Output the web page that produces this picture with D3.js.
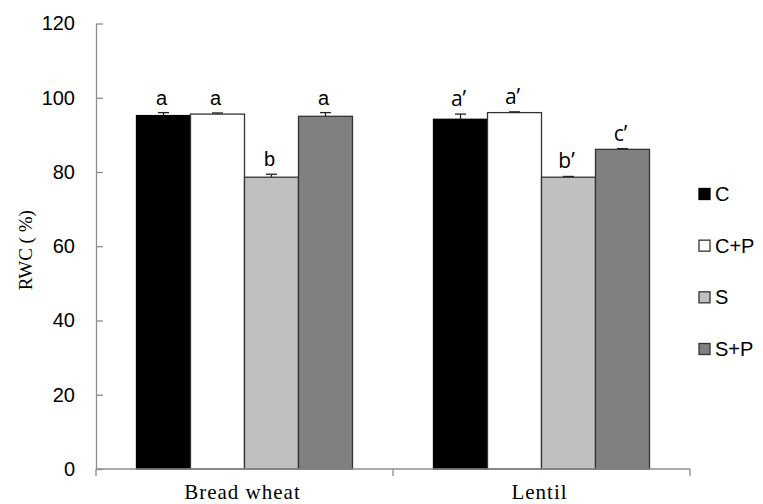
<!DOCTYPE html>
<html>
<head>
<meta charset="utf-8">
<script src="https://cdn.jsdelivr.net/npm/d3@7"></script>
<style>
  html, body { margin: 0; padding: 0; background: #fff; }
  svg { display: block; }
</style>
</head>
<body>
<svg id="chart" width="763" height="504"></svg>
<script>
// Relative water content (%) per crop and treatment
const crops = ["Bread wheat", "Lentil"];
const treatments = ["C", "C+P", "S", "S+P"];

const rwcC  = [95.2, 94.2];
const rwcCP = [95.6, 96.0];
const rwcS  = [78.6, 78.6];
const rwcSP = [95.0, 86.1];

const errC  = [0.8, 1.4];
const errCP = [0.3, 0.2];
const errS  = [0.8, 0.2];
const errSP = [1.0, 0.2];

// Significance letters (bread wheat, lentil)
const lettersWheat  = ["a", "a", "b", "a"];
const lettersLentil = ["a\u2019", "a\u2019", "b\u2019", "c\u2019"];

const yTicks = [0, 20, 40, 60, 80, 100, 120];

const fills   = ["#000000", "#ffffff", "#c0c0c0", "#808080"];
const strokes = ["#000000", "#333333", "#333333", "#333333"];

const seriesVals = [rwcC, rwcCP, rwcS, rwcSP];
const seriesErr  = [errC, errCP, errS, errSP];
const letterSets = [lettersWheat, lettersLentil];

const rows = [];
crops.forEach((crop, ci) => {
  treatments.forEach((t, ti) => {
    rows.push({
      crop, t, ti,
      value: seriesVals[ti][ci],
      err: seriesErr[ti][ci],
      letter: letterSets[ci][ti],
      lentil: ci === 1
    });
  });
});

const svg = d3.select("#chart");
const plotLeft = 96, plotRight = 690, plotTop = 23.5, plotBottom = 469;

const x0 = d3.scaleBand().domain(crops).range([plotLeft, plotRight]).padding(0);
const x1 = d3.scaleBand().domain(treatments).range([0, x0.bandwidth()])
  .paddingInner(0).paddingOuter(0.75);
const y = d3.scaleLinear().domain([0, 120]).range([plotBottom, plotTop]);

const axisGrey = "#8c8c8c";

// y axis, ticks pointing into the plot
const yAxis = svg.append("g")
  .attr("transform", `translate(${plotLeft},0)`)
  .call(d3.axisLeft(y).tickValues(yTicks).tickSizeInner(-7).tickSizeOuter(0).tickPadding(21));
yAxis.select(".domain").attr("stroke", axisGrey).attr("stroke-width", 1.3);
yAxis.selectAll(".tick line").attr("stroke", axisGrey).attr("stroke-width", 1.3);
yAxis.selectAll(".tick text")
  .attr("fill", "#000")
  .style("font-family", "'Liberation Sans', Arial, sans-serif")
  .style("font-size", "20px");

// y axis title
svg.append("text")
  .attr("transform", `translate(32,${(plotTop + plotBottom) / 2 + 4}) rotate(-90)`)
  .attr("text-anchor", "middle")
  .style("font-family", "'Liberation Serif', 'Times New Roman', serif")
  .style("font-size", "19px")
  .text("RWC ( %)");

// bars
const bars = svg.append("g");
bars.selectAll("rect")
  .data(rows)
  .join("rect")
  .attr("x", d => x0(d.crop) + x1(d.t))
  .attr("y", d => y(d.value))
  .attr("width", x1.bandwidth())
  .attr("height", d => y(0) - y(d.value))
  .attr("fill", d => fills[d.ti])
  .attr("stroke", d => strokes[d.ti])
  .attr("stroke-width", 1.3);

// error bars (upper half)
const eb = svg.append("g").attr("stroke", "#222").attr("stroke-width", 1.3);
rows.forEach(d => {
  const cx = x0(d.crop) + x1(d.t) + x1.bandwidth() / 2;
  eb.append("line").attr("x1", cx).attr("x2", cx)
    .attr("y1", y(d.value)).attr("y2", y(d.value + d.err));
  eb.append("line").attr("x1", cx - 5.5).attr("x2", cx + 5.5)
    .attr("y1", y(d.value + d.err)).attr("y2", y(d.value + d.err));
});

// letters above bars
svg.append("g").selectAll("text")
  .data(rows)
  .join("text")
  .attr("x", d => x0(d.crop) + x1(d.t) + x1.bandwidth() / 2 - 2)
  .attr("y", d => y(d.value + d.err) - 8)
  .attr("text-anchor", "middle")
  .style("font-family", d => d.lentil ? "'Open Sans', sans-serif" : "'Liberation Sans', Arial, sans-serif")
  .style("font-size", d => d.lentil ? "21px" : "20px")
  .text(d => d.letter);

// x axis with ticks at category boundaries
const xg = svg.append("g");
xg.append("line")
  .attr("x1", plotLeft).attr("x2", plotRight)
  .attr("y1", plotBottom).attr("y2", plotBottom)
  .attr("stroke", axisGrey).attr("stroke-width", 1.3);
const bounds = crops.map(c => x0(c)).concat([x0.range()[1]]);
xg.selectAll("line.tick")
  .data(bounds)
  .join("line")
  .attr("class", "tick")
  .attr("x1", d => d).attr("x2", d => d)
  .attr("y1", plotBottom).attr("y2", plotBottom + 7)
  .attr("stroke", axisGrey).attr("stroke-width", 1.3);
xg.selectAll("text")
  .data(crops)
  .join("text")
  .attr("x", d => x0(d) + x0.bandwidth() / 2 - 2)
  .attr("y", 499)
  .attr("text-anchor", "middle")
  .style("font-family", "'Liberation Serif', 'Times New Roman', serif")
  .style("font-size", "21px")
  .style("letter-spacing", "1px")
  .text(d => d);

// legend
const legend = svg.append("g");
const legendY = d3.scalePoint().domain(treatments).range([194, 349]);
treatments.forEach((t, i) => {
  const cy = legendY(t);
  legend.append("rect")
    .attr("x", 699).attr("y", cy - 5.5)
    .attr("width", 11).attr("height", 11)
    .attr("fill", fills[i])
    .attr("stroke", i === 0 ? "#000" : "#333")
    .attr("stroke-width", 1.3);
  legend.append("text")
    .attr("x", 715).attr("y", cy + 7)
    .style("font-family", "'Liberation Sans', Arial, sans-serif")
    .style("font-size", "20px")
    .text(t);
});
</script>
</body>
</html>
